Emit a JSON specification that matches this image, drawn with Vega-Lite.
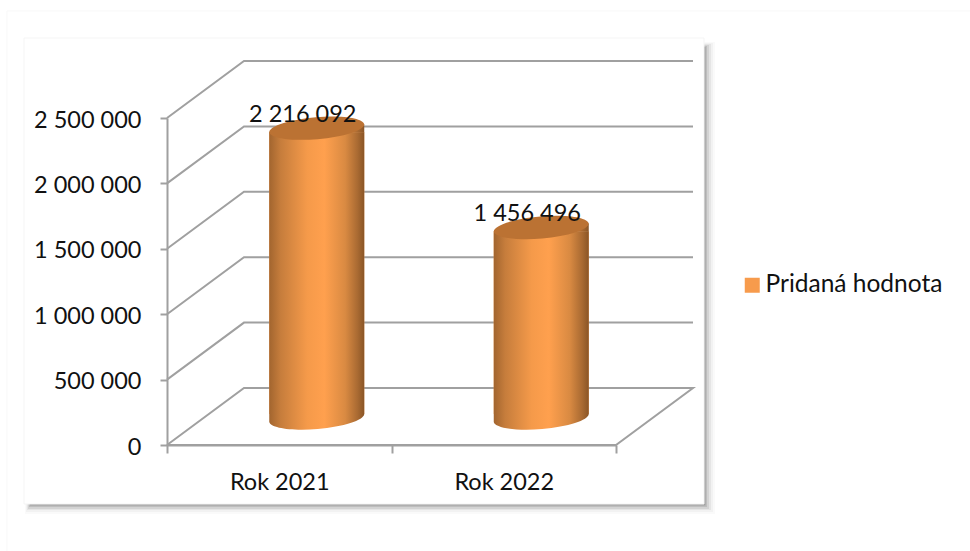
{
"$schema":"https://vega.github.io/schema/vega-lite/v6.json",
"width":970,"height":551,"autosize":"none","padding":0,"background":"#ffffff",
"config":{"view":{"stroke":null},"font":"Lato"},
"datasets":{
"frame":[{"x0":-0.637,"x1":2.392,"y0":-451070,"y1":3111621}],
"outer":[{"x0":-0.713,"x1":3.8,"y0":-900000,"y1":3318960}],
"grid":[
{"level":0,"gx":0,"gy":0},{"level":0,"gx":0.343,"gy":435780},{"level":0,"gx":2.343,"gy":435780},{"level":0,"gx":2,"gy":0},{"level":0,"gx":0,"gy":0},
{"level":500000,"gx":0,"gy":500000},{"level":500000,"gx":0.343,"gy":935780},{"level":500000,"gx":2.343,"gy":935780},
{"level":1000000,"gx":0,"gy":1000000},{"level":1000000,"gx":0.343,"gy":1435780},{"level":1000000,"gx":2.343,"gy":1435780},
{"level":1500000,"gx":0,"gy":1500000},{"level":1500000,"gx":0.343,"gy":1935780},{"level":1500000,"gx":2.343,"gy":1935780},
{"level":2000000,"gx":0,"gy":2000000},{"level":2000000,"gx":0.343,"gy":2435780},{"level":2000000,"gx":2.343,"gy":2435780},
{"level":2500000,"gx":0,"gy":2500000},{"level":2500000,"gx":0.343,"gy":2935780},{"level":2500000,"gx":2.343,"gy":2935780}
],
"values":[{"rok":"Rok 2021","hodnota":2216092,"popis":"2 216 092","series":"Pridaná hodnota"},{"rok":"Rok 2022","hodnota":1456496,"popis":"1 456 496","series":"Pridaná hodnota"}]
},
"resolve":{"scale":{"x":"independent"}},
"layer":[
{
"layer":[
{"data":{"name":"outer"},"mark":{"type":"rect","fill":"#ffffff","stroke":"#f8f8f8","strokeWidth":1},
 "encoding":{"x":{"field":"x0","type":"quantitative","scale":{"domain":[0,2],"range":[167,616],"nice":false,"zero":false},"axis":null},"x2":{"field":"x1"},
 "y":{"field":"y0","type":"quantitative","title":null,"scale":{"domain":[0,2500000],"range":[445,118],"nice":false,"zero":false},
   "axis":{"orient":"left","offset":-167,"zindex":1,"title":null,"values":[0,500000,1000000,1500000,2000000,2500000],"labelExpr":"replace(format(datum.value,','),/,/g,' ')","labelFont":"Lato","labelFontSize":23.5,"labelColor":"#111111","labelPadding":19,"labelOffset":2,"tickSize":7,"tickWidth":2,"tickColor":"#a0a0a0","domainColor":"#a0a0a0","domainWidth":2,"grid":false}},"y2":{"field":"y1"}}},
{"data":{"name":"frame"},"encoding":{"x":{"field":"x0","type":"quantitative","axis":null},"x2":{"field":"x1"},"y":{"field":"y0","type":"quantitative","title":null},"y2":{"field":"y1"}},
 "layer":[
 {"mark":{"type":"rect","fill":"#000000","opacity":0.02,"x2Offset":11,"y2Offset":4,"yOffset":10,"xOffset":1}},
 {"mark":{"type":"rect","fill":"#000000","opacity":0.03,"x2Offset":9,"y2Offset":5,"yOffset":8,"xOffset":2}},
 {"mark":{"type":"rect","fill":"#000000","opacity":0.05,"x2Offset":7,"y2Offset":6,"yOffset":6,"xOffset":3}},
 {"mark":{"type":"rect","fill":"#000000","opacity":0.08,"x2Offset":5,"y2Offset":7,"yOffset":5,"xOffset":4}},
 {"mark":{"type":"rect","fill":"#000000","opacity":0.1,"x2Offset":3,"y2Offset":8,"yOffset":3,"xOffset":5}},
 {"mark":{"type":"rect","fill":"#000000","opacity":0.14,"x2Offset":1.5,"y2Offset":9,"yOffset":1.5,"xOffset":6}},
 {"mark":{"type":"rect","fill":"#ffffff","stroke":"#f5f5f5","strokeWidth":1}}
 ]},
{"data":{"name":"grid"},"mark":{"type":"line","color":"#a0a0a0","strokeWidth":2,"interpolate":"linear"},
 "encoding":{"x":{"field":"gx","type":"quantitative","axis":null},"y":{"field":"gy","type":"quantitative","title":null},"detail":{"field":"level"},"order":{"field":"rowOrder"}}}
]},
{
"data":{"name":"values"},
"layer":[
{"mark":{"type":"bar","width":95,"xOffset":37.5,"yOffset":-23,"y2Offset":-31},
 "encoding":{
 "x":{"field":"rok","type":"nominal","sort":null,"title":null,"scale":{"type":"band","range":[167,616],"paddingInner":0,"paddingOuter":0},
   "axis":{"orient":"bottom","offset":-106,"zindex":1,"tickBand":"extent","labelAngle":0,"labelFont":"Lato","labelFontSize":23.5,"labelColor":"#111111","labelPadding":17,"tickSize":8,"tickWidth":2,"tickColor":"#a0a0a0","domainColor":"#a0a0a0","domainWidth":2,"grid":false}},
 "y":{"field":"hodnota","type":"quantitative","title":null},
 "y2":{"datum":0},
 "color":{"field":"series","type":"nominal","title":null,"scale":{"range":["#f79b4c"]},
   "legend":{"orient":"none","legendX":740,"legendY":273,"symbolType":"square","symbolSize":225,"labelFont":"Lato","labelFontSize":24.5,"labelLimit":300,"labelColor":"#111111","labelOffset":1,"symbolStrokeWidth":0,"padding":0}}}},
{"mark":{"type":"bar","width":95,"xOffset":37.5,"yOffset":-23,"y2Offset":-31,"fill":{"gradient":"linear","x1":0,"x2":1,"y1":0,"y2":0,"stops":[{"offset":0,"color":"#a2652f"},{"offset":0.12,"color":"#c67d3c"},{"offset":0.4,"color":"#f59a4a"},{"offset":0.58,"color":"#ffa04e"},{"offset":0.8,"color":"#d98a42"},{"offset":0.93,"color":"#a96a32"},{"offset":1,"color":"#8a5526"}]}},
 "encoding":{"x":{"field":"rok","type":"nominal","sort":null},"y":{"field":"hodnota","type":"quantitative","title":null},"y2":{"datum":0}}},
{"mark":{"type":"point","filled":true,"opacity":1,"size":9025,"xOffset":37.5,"yOffset":-27,"shape":"M-1,0.084 L1,-0.084 L1,0.09 L-1,0.09 Z","fill":{"gradient":"linear","x1":0,"x2":1,"y1":0,"y2":0,"stops":[{"offset":0,"color":"#a2652f"},{"offset":0.12,"color":"#c67d3c"},{"offset":0.4,"color":"#f59a4a"},{"offset":0.58,"color":"#ffa04e"},{"offset":0.8,"color":"#d98a42"},{"offset":0.93,"color":"#a96a32"},{"offset":1,"color":"#8a5526"}]}},
 "encoding":{"x":{"field":"rok","type":"nominal","sort":null},"y":{"field":"hodnota","type":"quantitative","title":null}}},
{"mark":{"type":"point","filled":true,"opacity":1,"size":9025,"xOffset":37.5,"yOffset":-27,"shape":"M-1,0.084 A1.004,0.24,-4.8,0,1,1,-0.084 A1.004,0.24,-4.8,0,1,-1,0.084 Z","fill":"#bb7233"},
 "encoding":{"x":{"field":"rok","type":"nominal","sort":null},"y":{"field":"hodnota","type":"quantitative","title":null}}},
{"mark":{"type":"point","filled":true,"opacity":1,"size":9025,"xOffset":37.5,"yOffset":-27,"shape":"M-1,-0.084 L1,-0.084 A1.004,0.24,-4.8,0,1,-1,0.084 Z","fill":{"gradient":"linear","x1":0,"x2":1,"y1":0,"y2":0,"stops":[{"offset":0,"color":"#a2652f"},{"offset":0.12,"color":"#c67d3c"},{"offset":0.4,"color":"#f59a4a"},{"offset":0.58,"color":"#ffa04e"},{"offset":0.8,"color":"#d98a42"},{"offset":0.93,"color":"#a96a32"},{"offset":1,"color":"#8a5526"}]}},
 "encoding":{"x":{"field":"rok","type":"nominal","sort":null},"y":{"datum":0,"type":"quantitative","title":null}}},
{"mark":{"type":"text","font":"Lato","fontSize":23.5,"color":"#111111","xOffset":23.5,"yOffset":-40,"baseline":"middle"},
 "encoding":{"x":{"field":"rok","type":"nominal","sort":null},"y":{"field":"hodnota","type":"quantitative","title":null},"text":{"field":"popis","type":"nominal"}}}
]}
]}
